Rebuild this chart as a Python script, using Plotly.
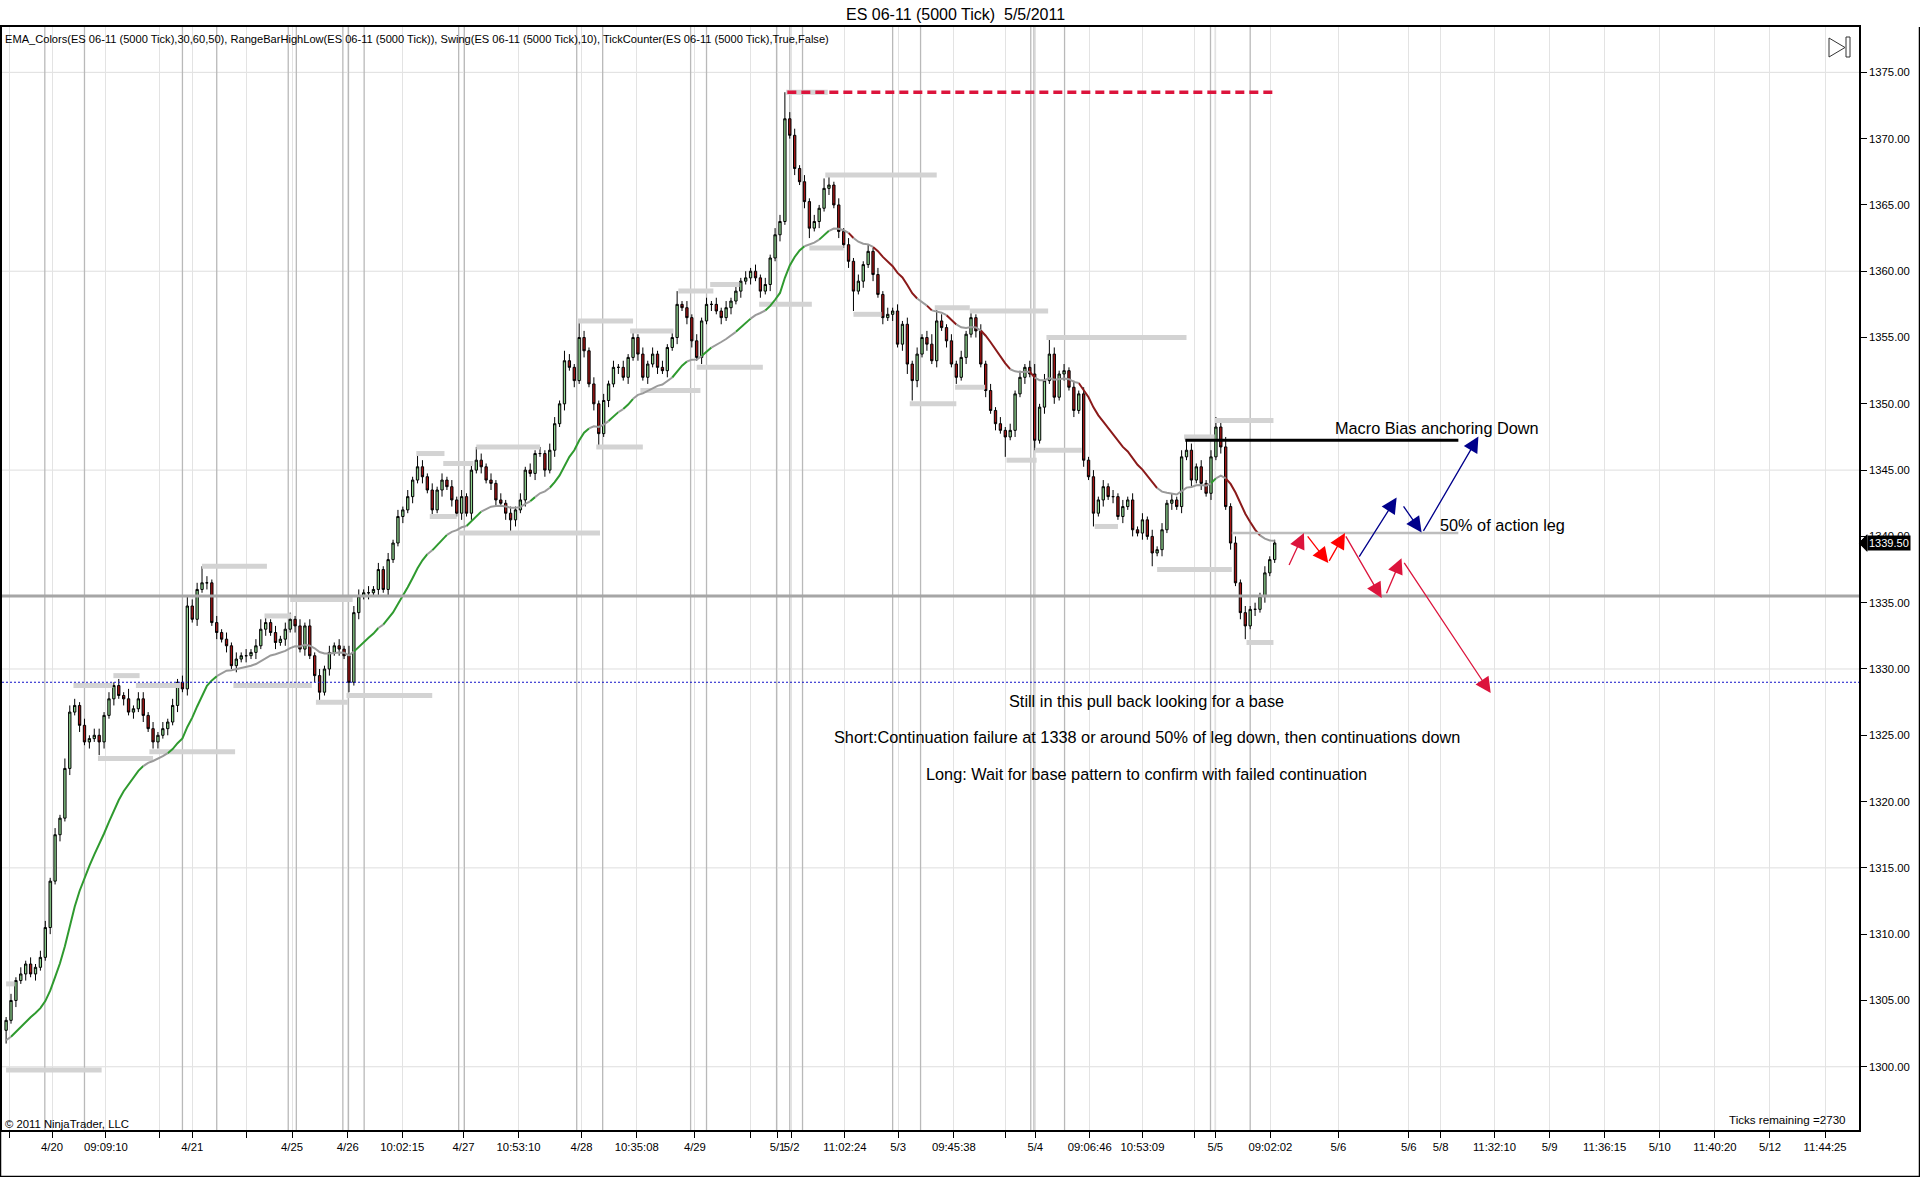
import plotly.graph_objects as go

# ---------------- text ----------------
TITLE = "ES 06-11 (5000 Tick)  5/5/2011"
INDICATORS = ("EMA_Colors(ES 06-11 (5000 Tick),30,60,50), RangeBarHighLow(ES 06-11 (5000 Tick)), "
              "Swing(ES 06-11 (5000 Tick),10), TickCounter(ES 06-11 (5000 Tick),True,False)")
COPYRIGHT = "© 2011 NinjaTrader, LLC"
TICKS_REMAINING = "Ticks remaining =2730"

# ---------------- price bars (bar index = position) ----------------
FIRST_OPEN = 1302.75
CLOSES = [
    1303.5, 1305, 1306.5, 1307, 1307.75, 1307, 1307.5, 1308.25, 1310.5, 1314,
    1317.5, 1318.75, 1322.5, 1326.75, 1327.25, 1325.75, 1324.5, 1324.75, 1325, 1324.5,
    1326.5, 1327.75, 1328.75, 1328, 1327.75, 1326.75, 1327, 1327.75, 1326.5, 1325.5,
    1324.5, 1325, 1325.5, 1326, 1327.25, 1329, 1328.5, 1334.75, 1333.75, 1336,
    1336.5, 1336.5, 1333.5, 1332.75, 1332.25, 1331.75, 1330.25, 1330.75, 1331, 1331,
    1331.25, 1331.75, 1333, 1333.5, 1332.75, 1332, 1332.25, 1333, 1333.75, 1333.25,
    1331.5, 1333.25, 1331, 1329.5, 1328.25, 1330, 1331.25, 1331.75, 1331.5, 1331,
    1329, 1334.25, 1335.5, 1335.75, 1335.75, 1336, 1337.5, 1336, 1338.25, 1339.5,
    1341.5, 1342, 1343, 1344.25, 1345.25, 1344.5, 1343.5, 1342, 1343.5, 1344.25,
    1343.75, 1342.75, 1341.75, 1343, 1341.75, 1345, 1345.75, 1345.25, 1344.25, 1344,
    1342.75, 1342.5, 1341.75, 1341.25, 1342, 1342.75, 1345, 1344.75, 1346.25, 1346.25,
    1345, 1346.5, 1348.5, 1350, 1353.25, 1352.75, 1351.75, 1355, 1354, 1351.5,
    1350, 1347.75, 1350.25, 1351.5, 1352.75, 1352.75, 1352, 1353.5, 1355, 1353.75,
    1352, 1353, 1353.75, 1352.75, 1352.5, 1354.25, 1355, 1357.5, 1357.25, 1356.5,
    1354.75, 1353.5, 1356.25, 1357.5, 1357.5, 1357, 1356.5, 1357.25, 1357.75, 1358.5,
    1359.25, 1359.5, 1360, 1359.5, 1358.5, 1359, 1361, 1362.75, 1363.75, 1371.5,
    1370.25, 1367.75, 1366.75, 1365.25, 1363.25, 1363.75, 1364.75, 1366.25, 1366.5, 1365,
    1363, 1362, 1360.75, 1358.5, 1359.25, 1360.5, 1361.5, 1359.75, 1358.25, 1356.5,
    1356.75, 1357, 1354.5, 1356, 1353, 1351.75, 1353.75, 1355, 1354.5, 1353.25,
    1356.25, 1355.75, 1354.75, 1353, 1352, 1353.5, 1355.25, 1356.5, 1355.5, 1353,
    1351, 1349.5, 1348.5, 1348, 1347.5, 1348, 1350.75, 1352, 1352.75, 1352.25,
    1347.25, 1349.75, 1351.75, 1353.75, 1350.5, 1352.25, 1352.5, 1351.25, 1349.5, 1350.75,
    1345.75, 1344.5, 1341.75, 1342.75, 1343.75, 1343, 1343, 1341.5, 1342.25, 1342.75,
    1340.5, 1340.25, 1341.25, 1340, 1338.75, 1339, 1340.5, 1342.5, 1342.75, 1342.25,
    1346, 1346.5, 1344.25, 1345.25, 1344, 1343.25, 1346, 1348.25, 1346.75, 1342.25,
    1339.5, 1336.5, 1334.25, 1333.25, 1334.5, 1334.5, 1335.5, 1337.25, 1338.25, 1339.5,
]
# wick lengths above / below the body, in quarter-point ticks
UPPER_WICK_Q = [
    1, 2, 1, 2, 1, 2, 1, 2, 2, 1, 2, 1, 3, 2, 2, 1, 2, 1, 2, 2,
    1, 2, 1, 2, 1, 3, 1, 2, 2, 1, 2, 1, 2, 1, 2, 1, 2, 3, 2, 2,
    5, 2, 1, 2, 1, 2, 1, 2, 1, 2, 1, 2, 3, 2, 1, 2, 1, 2, 2, 1,
    2, 1, 2, 1, 2, 1, 2, 1, 2, 1, 3, 2, 2, 1, 2, 1, 2, 1, 2, 1,
    2, 1, 2, 1, 4, 2, 1, 2, 1, 2, 1, 2, 1, 2, 1, 2, 4, 2, 1, 2,
    1, 2, 1, 2, 1, 2, 1, 2, 1, 2, 1, 2, 2, 1, 3, 2, 1, 5, 2, 1,
    2, 1, 2, 1, 2, 1, 2, 1, 2, 1, 2, 1, 2, 1, 2, 1, 2, 4, 1, 2,
    1, 2, 1, 2, 1, 2, 1, 2, 1, 2, 1, 2, 1, 2, 1, 2, 1, 2, 2, 8,
    2, 2, 1, 2, 1, 2, 1, 3, 3, 1, 2, 1, 2, 1, 2, 1, 2, 1, 2, 1,
    2, 1, 2, 1, 2, 1, 2, 1, 2, 3, 4, 2, 1, 2, 1, 2, 1, 2, 1, 2,
    1, 2, 1, 2, 1, 2, 1, 2, 1, 2, 3, 1, 2, 5, 2, 1, 2, 1, 2, 1,
    2, 1, 2, 1, 2, 1, 2, 1, 2, 1, 2, 1, 2, 1, 2, 1, 2, 1, 2, 1,
    2, 4, 2, 1, 2, 1, 2, 3, 2, 3, 1, 2, 1, 2, 1, 2, 1, 2, 1, 1,
]
LOWER_WICK_Q = [
    4, 1, 2, 1, 2, 1, 2, 1, 1, 2, 1, 2, 1, 2, 1, 2, 1, 2, 1, 4,
    2, 1, 2, 1, 2, 1, 2, 1, 2, 1, 2, 2, 1, 2, 1, 2, 1, 2, 1, 2,
    1, 2, 1, 2, 1, 2, 1, 2, 1, 2, 1, 2, 1, 2, 1, 2, 1, 2, 1, 2,
    1, 2, 1, 2, 3, 1, 2, 1, 2, 1, 3, 1, 2, 1, 2, 1, 2, 1, 2, 1,
    1, 2, 1, 2, 1, 2, 1, 2, 1, 2, 1, 2, 1, 2, 1, 2, 1, 2, 1, 2,
    2, 1, 2, 4, 2, 1, 2, 1, 2, 1, 2, 1, 2, 1, 2, 1, 2, 1, 2, 1,
    2, 4, 1, 2, 1, 2, 1, 2, 1, 2, 1, 2, 1, 2, 1, 2, 1, 2, 1, 2,
    2, 1, 2, 1, 2, 1, 2, 1, 2, 1, 2, 1, 2, 1, 2, 1, 2, 1, 2, 1,
    1, 2, 1, 2, 3, 1, 2, 1, 2, 1, 2, 1, 2, 6, 1, 2, 1, 2, 1, 2,
    1, 2, 1, 2, 3, 6, 2, 1, 2, 1, 2, 1, 2, 1, 2, 1, 2, 1, 2, 1,
    2, 1, 2, 1, 6, 1, 2, 1, 2, 1, 3, 1, 2, 1, 2, 1, 2, 1, 2, 1,
    2, 1, 4, 1, 2, 1, 2, 1, 2, 1, 2, 1, 2, 1, 4, 1, 2, 1, 2, 1,
    2, 1, 2, 1, 2, 1, 2, 1, 2, 1, 2, 1, 2, 4, 1, 2, 1, 2, 1, 1,
]
TICK = 0.25

# EMA indicator settings
EMA_PERIOD = 22
EMA_SEED = 1302.0
EMA_FLAT = 0.3

# swing / range high-low marks (bar index start, end, price)
SWING_X0 = [0, 0, 13.75, 21.9, 26.5, 18.75, 29.25, 40, 52.75, 58, 46.4, 63.25, 69.5, 83.75,
            89.25, 86.5, 92.25, 96, 116.75, 120.5, 127.4, 129.5, 137.25, 143.75, 141, 153.75,
            159.25, 167.25, 164, 173, 184.5, 189.6, 196.75, 193.75, 204.25, 210, 212.4,
            222.25, 235, 240.5, 246.75, 253.25]
SWING_X1 = [19.5, 1.75, 21.75, 27.25, 35.5, 30, 46.75, 53.25, 58.25, 70.75, 62.4, 69.75, 87,
            89.5, 95.4, 92, 121.25, 109, 128, 130, 136.25, 141.75, 144.4, 149.75, 154.5, 164.5,
            167.75, 190, 171, 178.75, 194, 196.75, 212.75, 199.85, 210.4, 219.6, 241, 227,
            250.25, 246.75, 258.75, 258.75]
SWING_Y = [1299.75, 1306.25, 1328.75, 1329.5, 1328.75, 1323.25, 1323.75, 1337.75, 1334.0,
           1335.25, 1328.75, 1327.5, 1328.0, 1346.25, 1345.5, 1341.5, 1340.25, 1346.75,
           1356.25, 1346.75, 1355.5, 1351.0, 1358.5, 1359.0, 1352.75, 1357.5, 1373.5,
           1367.25, 1361.75, 1356.75, 1350.0, 1357.25, 1357.0, 1351.25, 1345.75, 1346.5,
           1355.0, 1340.75, 1337.5, 1347.5, 1348.75, 1332.0]

# drawn levels
PIVOT_LEVEL = 1335.5
BLUE_LEVEL = 1329.0
HIGH_LEVEL, HIGH_X0, HIGH_X1 = 1373.5, 159.5, 258.75
MACRO_LEVEL, MACRO_X0, MACRO_X1 = 1347.25, 240.75, 296.5
HALF_LEVEL, HALF_X0, HALF_X1 = 1340.25, 250.25, 296.5
LAST_PRICE = 1339.50

# scenario arrows (tail -> tip)
ARROW_X0 = [261.8, 265.5, 269.95, 273.35, 281.7, 285.25, 276.07, 285.1, 289.2]
ARROW_Y0 = [1337.73, 1340.12, 1338.04, 1340.12, 1335.6, 1338.11, 1338.36, 1342.38, 1340.3]
ARROW_X1 = [264.97, 269.95, 273.35, 280.85, 284.9, 303.1, 283.9, 289.0, 300.6]
ARROW_Y1 = [1340.25, 1337.99, 1340.25, 1335.35, 1338.36, 1328.18, 1342.93, 1340.3, 1347.53]
ARROW_KIND = ["short", "short_alt", "short_alt", "short", "short", "short", "long", "long", "long"]

# notes (bar index, price)
NOTES = ["Macro Bias anchoring Down", "50% of action leg",
         "Still in this pull back looking for a base",
         "Short:Continuation failure at 1338 or around 50% of leg down, then continuations down",
         "Long: Wait for base pattern to confirm with failed continuation"]
NOTE_X = [292.1, 305.6, 232.9, 232.9, 232.9]
NOTE_Y = [1348.2, 1340.85, 1327.6, 1324.85, 1322.1]

# time axis
TICK_POS = [0.625, 9.375, 20.375, 31.25, 38, 49.125, 58.375, 69.75, 80.875, 93.375, 104.625,
            117.5, 128.75, 140.625, 152, 157.5, 160.375, 171.25, 182.125, 193.5, 204.125,
            210.125, 221.25, 232, 242.625, 246.875, 258.125, 272, 286.375, 292.875, 303.875,
            315.125, 326.375, 337.625, 348.875, 360.125, 371.375]
TICK_TEXT = ["", "4/20", "09:09:10", "", "4/21", "", "4/25", "4/26", "10:02:15", "4/27",
             "10:53:10", "4/28", "10:35:08", "4/29", "", "5/1", "5/2", "11:02:24", "5/3",
             "09:45:38", "", "5/4", "09:06:46", "10:53:09", "", "5/5", "09:02:02", "5/6",
             "5/6", "5/8", "11:32:10", "5/9", "11:36:15", "5/10", "11:40:20", "5/12", "11:44:25"]
SESSION_LINES = [7.9, 16, 36, 43, 57.6, 59.25, 68.75, 69.9, 73.1, 92.4, 93.55, 116.5, 121.8,
                 139.75, 143, 157.3, 160, 162.6, 181, 186.7, 209.2, 209.85, 216.1, 245.9,
                 246.9, 254]
PRICE_TICKS = [1300, 1305, 1310, 1315, 1320, 1325, 1330, 1335, 1340, 1345, 1350, 1355, 1360,
               1365, 1370, 1375]
PRICE_GRID = [1300, 1315, 1330, 1345, 1360, 1375]

# ---------------- styles / layout constants ----------------
W, H = 1920, 1177
L, R, T, B = 2, 1859, 27, 1130
X_RANGE = [-0.84, 378.3]
Y_RANGE = [1295.23, 1378.42]
FONT = "Liberation Sans, Arial, sans-serif"
UP_FILL, DOWN_FILL = "#8fd48f", "#a31515"
EMA_COLORS = {"up": "#2f9a2f", "down": "#8b1a1a", "flat": "#9a9a9a"}
ARROW_STYLE = {"short": "#dc143c", "short_alt": "#ff0000", "long": "#00008b"}


def px(X):
    return (X - L) / (R - L)


def py(Y):
    return (B - Y) / (B - T)


# ---------------- derived OHLC ----------------
n = len(CLOSES)
xs = list(range(n))
opens = [FIRST_OPEN] + CLOSES[:-1]
highs = [max(o, c) + u * TICK for o, c, u in zip(opens, CLOSES, UPPER_WICK_Q)]
lows = [min(o, c) - d * TICK for o, c, d in zip(opens, CLOSES, LOWER_WICK_Q)]

# EMA
alpha = 2.0 / (EMA_PERIOD + 1)
ema = [EMA_SEED]
for c in CLOSES[1:]:
    ema.append(ema[-1] + alpha * (c - ema[-1]))


def state(i):
    s = ema[i] - ema[i - 1]
    if s > EMA_FLAT:
        return "up"
    if s < -EMA_FLAT:
        return "down"
    return "flat"


ema_xy = {k: ([], []) for k in EMA_COLORS}
runs = []
for i in range(1, n):
    st = state(i)
    if runs and runs[-1][0] == st:
        runs[-1][2] = i
    else:
        runs.append([st, i - 1, i])
for st, a, b in runs:
    ex, ey = ema_xy[st]
    ex.extend(list(range(a, b + 1)) + [None])
    ey.extend(ema[a:b + 1] + [None])

fig = go.Figure()

# swing marks (behind bars)
sx, sy = [], []
for a, b, y in zip(SWING_X0, SWING_X1, SWING_Y):
    sx += [a, b, None]
    sy += [y, y, None]
fig.add_trace(go.Scatter(x=sx, y=sy, mode="lines", line=dict(color="#d3d3d3", width=5),
                         hoverinfo="skip", showlegend=False))

fig.add_trace(go.Candlestick(
    x=xs, open=opens, high=highs, low=lows, close=CLOSES,
    increasing=dict(fillcolor=UP_FILL, line=dict(color="#000000", width=1)),
    decreasing=dict(fillcolor=DOWN_FILL, line=dict(color="#000000", width=1)),
    whiskerwidth=0, showlegend=False, hoverinfo="skip"))

for k, col in EMA_COLORS.items():
    ex, ey = ema_xy[k]
    fig.add_trace(go.Scatter(x=ex, y=ey, mode="lines", line=dict(color=col, width=2),
                             connectgaps=False, hoverinfo="skip", showlegend=False))

shapes = []
for g in PRICE_GRID:
    shapes.append(dict(type="line", xref="paper", yref="y", x0=0, x1=1, y0=g, y1=g,
                       line=dict(color="#dedede", width=1), layer="below"))
for s in SESSION_LINES:
    shapes.append(dict(type="line", xref="x", yref="paper", x0=s, x1=s, y0=0, y1=1,
                       line=dict(color="#b9b9b9", width=1.3), layer="below"))
shapes.append(dict(type="line", xref="paper", yref="y", x0=0, x1=1, y0=PIVOT_LEVEL,
                   y1=PIVOT_LEVEL, line=dict(color="#a6a6a6", width=3)))
shapes.append(dict(type="line", xref="paper", yref="y", x0=0, x1=1, y0=BLUE_LEVEL,
                   y1=BLUE_LEVEL, line=dict(color="#1010c8", width=1, dash="2px,2px")))
shapes.append(dict(type="line", x0=HIGH_X0, x1=HIGH_X1, y0=HIGH_LEVEL, y1=HIGH_LEVEL,
                   line=dict(color="#dc143c", width=3.5, dash="9px,5px")))
shapes.append(dict(type="line", x0=HALF_X0, x1=HALF_X1, y0=HALF_LEVEL, y1=HALF_LEVEL,
                   line=dict(color="#bdbdbd", width=2.5)))
shapes.append(dict(type="line", x0=MACRO_X0, x1=MACRO_X1, y0=MACRO_LEVEL, y1=MACRO_LEVEL,
                   line=dict(color="#000000", width=3)))

# play icon
shapes.append(dict(type="path", xref="paper", yref="paper",
                   path=f"M {px(1829)},{py(38)} L {px(1829)},{py(57)} L {px(1845)},{py(47.5)} Z",
                   line=dict(color="#333333", width=1)))
shapes.append(dict(type="rect", xref="paper", yref="paper", x0=px(1846), x1=px(1850),
                   y0=py(57), y1=py(37), line=dict(color="#333333", width=1)))
# last price pointer
shapes.append(dict(type="path", xref="paper", yref="y",
                   path=f"M {px(R)},{LAST_PRICE} L {px(R + 8)},{LAST_PRICE + 0.62} "
                        f"L {px(R + 8)},{LAST_PRICE - 0.62} Z",
                   fillcolor="#000000", line=dict(color="#000000", width=1)))
# outer frame (left, bottom, right)
for x0, y0, x1, y1 in [(0.5, T, 0.5, 1176.5), (0, 1176.5, 1920, 1176.5),
                       (1919.5, T, 1919.5, 1176.5)]:
    shapes.append(dict(type="line", xref="paper", yref="paper", x0=px(x0), y0=py(y0),
                       x1=px(x1), y1=py(y1), line=dict(color="#000000", width=1.5)))

annotations = []
for x0, y0, x1, y1, k in zip(ARROW_X0, ARROW_Y0, ARROW_X1, ARROW_Y1, ARROW_KIND):
    annotations.append(dict(x=x1, y=y1, ax=x0, ay=y0, xref="x", yref="y", axref="x",
                            ayref="y", text="", showarrow=True, arrowhead=2, arrowsize=2.4,
                            arrowwidth=1.3, arrowcolor=ARROW_STYLE[k], standoff=0))
for t, x, y in zip(NOTES, NOTE_X, NOTE_Y):
    annotations.append(dict(x=x, y=y, xref="x", yref="y", text=t, showarrow=False,
                            font=dict(family=FONT, size=16.3, color="#000000")))

annotations += [
    dict(x=px(955), y=py(14), xref="paper", yref="paper", text=TITLE, showarrow=False,
         xanchor="center", yanchor="middle", font=dict(family=FONT, size=16, color="#000000")),
    dict(x=px(3), y=py(39), xref="paper", yref="paper", text=INDICATORS, showarrow=False,
         xanchor="left", yanchor="middle", font=dict(family=FONT, size=11.1, color="#000000")),
    dict(x=px(3), y=py(1124), xref="paper", yref="paper", text=COPYRIGHT, showarrow=False,
         xanchor="left", yanchor="middle", font=dict(family=FONT, size=11.3, color="#000000")),
    dict(x=px(1848), y=py(1119), xref="paper", yref="paper", text=TICKS_REMAINING,
         showarrow=False, xanchor="right", yanchor="middle",
         font=dict(family=FONT, size=11.6, color="#000000")),
    dict(x=px(R + 8), y=LAST_PRICE, xref="paper", yref="y", text=f"{LAST_PRICE:.2f}",
         showarrow=False, xanchor="left", yanchor="middle", bgcolor="#000000", borderpad=1,
         font=dict(family=FONT, size=11, color="#ffffff")),
]

fig.update_layout(
    width=W, height=H, paper_bgcolor="#ffffff", plot_bgcolor="#ffffff",
    margin=dict(l=L, r=W - R, t=T, b=H - B, pad=0, autoexpand=False),
    showlegend=False, shapes=shapes, annotations=annotations, boxgap=0.32,
    hovermode=False,
    xaxis=dict(range=X_RANGE, rangeslider=dict(visible=False), tickmode="array",
               tickvals=TICK_POS, ticktext=TICK_TEXT, tickangle=0, ticks="outside",
               ticklen=6, tickcolor="#000000", showgrid=True, gridcolor="#e3e3e3",
               gridwidth=1, zeroline=False, showline=True, linecolor="#000000",
               linewidth=1.5, mirror=True,
               tickfont=dict(family=FONT, size=11.3, color="#000000")),
    yaxis=dict(range=Y_RANGE, side="right", tickmode="array", tickvals=PRICE_TICKS,
               ticktext=[f"{p:.2f}" for p in PRICE_TICKS], ticks="outside", ticklen=6,
               tickcolor="#000000", showgrid=False, zeroline=False, showline=True,
               linecolor="#000000", linewidth=1.5, mirror=True,
               tickfont=dict(family=FONT, size=11.3, color="#000000")),
)

fig.write_html("out.html", config={"displayModeBar": False},
               post_script="document.body.style.margin='0';document.body.style.overflow='hidden';")
